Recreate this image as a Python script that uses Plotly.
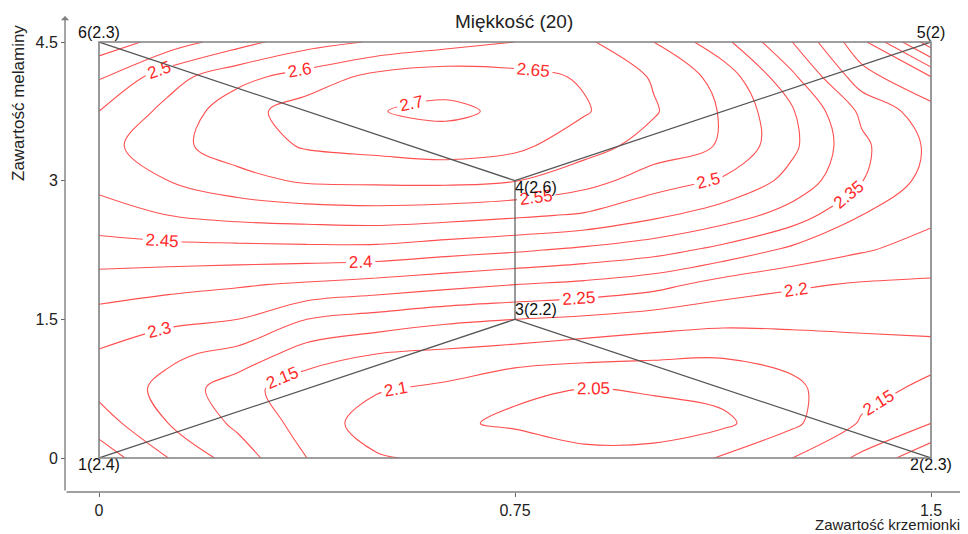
import plotly.graph_objects as go

# ---- axes values ----
x_vals = [0, 0.125, 0.25, 0.375, 0.5, 0.625, 0.75, 0.875, 1.0, 1.125, 1.25, 1.375, 1.5]
y_vals = [0, 0.375, 0.75, 1.125, 1.5, 1.875, 2.25, 2.625, 3.0, 3.375, 3.75, 4.125, 4.5]

# ---- softness surface, one row per y value ----
z_y0_000 = [2.38, 2.30, 2.225, 2.15, 2.105, 2.09, 2.075, 2.06, 2.065, 2.105, 2.15, 2.21, 2.29]
z_y0_375 = [2.325, 2.25, 2.19, 2.13, 2.075, 2.055, 2.045, 2.035, 2.03, 2.04, 2.09, 2.155, 2.20]
z_y0_750 = [2.285, 2.235, 2.17, 2.12, 2.105, 2.09, 2.055, 2.05, 2.055, 2.065, 2.09, 2.135, 2.16]
z_y1_125 = [2.295, 2.26, 2.235, 2.175, 2.15, 2.14, 2.13, 2.117, 2.11, 2.105, 2.115, 2.135, 2.135]
z_y1_500 = [2.33, 2.313, 2.30, 2.25, 2.23, 2.21, 2.20, 2.19, 2.175, 2.165, 2.165, 2.16, 2.165]
z_y1_875 = [2.376, 2.365, 2.355, 2.343, 2.33, 2.315, 2.30, 2.288, 2.268, 2.228, 2.207, 2.195, 2.193]
z_y2_250 = [2.43, 2.433, 2.434, 2.436, 2.435, 2.42, 2.407, 2.39, 2.37, 2.335, 2.288, 2.255, 2.229]
z_y2_625 = [2.478, 2.50, 2.515, 2.522, 2.527, 2.52, 2.508, 2.494, 2.46, 2.425, 2.378, 2.30, 2.262]
z_y3_000 = [2.515, 2.55, 2.583, 2.607, 2.61, 2.612, 2.602, 2.57, 2.524, 2.494, 2.434, 2.352, 2.28]
z_y3_375 = [2.53, 2.585, 2.625, 2.655, 2.665, 2.675, 2.662, 2.62, 2.58, 2.545, 2.46, 2.36, 2.29]
z_y3_750 = [2.50, 2.565, 2.63, 2.675, 2.698, 2.71, 2.69, 2.655, 2.605, 2.545, 2.455, 2.34, 2.27]
z_y4_125 = [2.445, 2.53, 2.585, 2.62, 2.665, 2.68, 2.665, 2.645, 2.595, 2.53, 2.41, 2.27, 2.20]
z_y4_500 = [2.37, 2.42, 2.48, 2.53, 2.555, 2.58, 2.60, 2.61, 2.55, 2.465, 2.35, 2.215, 2.02]

# ---- design points ----
pt_x = [0, 1.5, 0.75, 0.75, 1.5, 0]
pt_y = [0, 0, 1.5, 3.0, 4.5, 4.5]
pt_val = [2.4, 2.3, 2.2, 2.6, 2, 2.3]
edges = [(0, 2), (1, 2), (2, 3), (3, 5), (3, 4)]

x_ticks = [0, 0.75, 1.5]
y_ticks = [0, 1.5, 3, 4.5]

z = [z_y0_000, z_y0_375, z_y0_750, z_y1_125, z_y1_500, z_y1_875, z_y2_250,
     z_y2_625, z_y3_000, z_y3_375, z_y3_750, z_y4_125, z_y4_500]

FONT = "Liberation Sans, Arial, sans-serif"
RED = "#ff5050"
TXT = "#222222"

fig = go.Figure()
fig.add_trace(go.Contour(
    x=x_vals, y=y_vals, z=z,
    contours=dict(start=2.05, end=2.7, size=0.05, coloring="lines",
                  showlabels=True,
                  labelfont=dict(family=FONT, size=17, color="#ff2a2a"),
                  labelformat=".3~g"),
    colorscale=[[0, RED], [1, RED]],
    line=dict(width=1.1, smoothing=1.0),
    showscale=False, hoverinfo="skip",
))

# design lines
lx, ly = [], []
for a, b in edges:
    lx += [pt_x[a], pt_x[b], None]
    ly += [pt_y[a], pt_y[b], None]
fig.add_trace(go.Scatter(x=lx, y=ly, mode="lines",
                         line=dict(color="#555555", width=1.2),
                         hoverinfo="skip", showlegend=False))

# point labels
positions = ["bottom center", "bottom center", "top right", "bottom right",
             "top center", "top center"]
labels = [f"{i+1}({v:g})" for i, v in enumerate(pt_val)]
fig.add_trace(go.Scatter(x=pt_x, y=pt_y, mode="text", text=labels,
                         textposition=positions,
                         textfont=dict(family=FONT, size=16, color="#111111"),
                         cliponaxis=False, hoverinfo="skip", showlegend=False))

# the page body has an 8px margin, so the figure starts at screen (8, 8)
OFF = 8
W, H = 968 - OFF, 534 - OFF
SX0, SY0 = 65, 492                 # screen position of the axes origin
L, B = SX0 - OFF, H - (SY0 - OFF)
T, R = 42 - OFF, W - (931 - OFF)
pw, ph = W - L - R, H - T - B


def px(sx):
    return (sx - SX0) / pw


def py(sy):
    return (SY0 - sy) / ph


fig.update_layout(
    width=W, height=H,
    margin=dict(l=L, r=R, t=T, b=B, pad=0, autoexpand=False),
    paper_bgcolor="white", plot_bgcolor="white",
    showlegend=False,
    font=dict(family=FONT, size=16, color=TXT),
    xaxis=dict(range=[0, 1.5], domain=[px(99), 1], anchor="free", position=0,
               tickvals=x_ticks, ticktext=[f"{v:g}" for v in x_ticks],
               ticks="outside", ticklen=4, tickcolor="#666666",
               showgrid=False, zeroline=False, showline=False, automargin=False,
               tickfont=dict(family=FONT, size=16, color=TXT)),
    yaxis=dict(range=[0, 4.5], domain=[py(458), 1],
               anchor="free", position=0,
               tickvals=y_ticks, ticktext=[f"{v:g}" for v in y_ticks],
               ticks="outside", ticklen=4, tickcolor="#666666",
               showgrid=False, zeroline=False, showline=False, automargin=False,
               tickfont=dict(family=FONT, size=16, color=TXT)),
)

# frame around the plotting region
fig.add_shape(type="rect", xref="x domain", yref="y domain", x0=0, x1=1, y0=0, y1=1,
              line=dict(color="#808080", width=1.6), layer="above")

# axis lines with arrows
fig.add_annotation(xref="paper", yref="paper", x=0, y=py(16),
                   ax=0, ay=476, axref="pixel", ayref="pixel", text="",
                   showarrow=True, arrowhead=1, arrowsize=1, arrowwidth=1.4,
                   arrowcolor="#808080")
fig.add_annotation(xref="paper", yref="paper", x=px(966), y=0,
                   ax=-901, ay=0, axref="pixel", ayref="pixel", text="",
                   showarrow=True, arrowhead=1, arrowsize=1, arrowwidth=1.4,
                   arrowcolor="#808080")

# titles
fig.add_annotation(xref="paper", yref="paper", x=px(514), y=py(22),
                   xanchor="center", yanchor="middle",
                   text="Miękkość (20)", showarrow=False,
                   font=dict(family=FONT, size=19, color=TXT))
fig.add_annotation(xref="paper", yref="paper", x=px(18), y=py(103),
                   xanchor="center", yanchor="middle",
                   text="Zawartość melaminy", textangle=-90, showarrow=False,
                   font=dict(family=FONT, size=17, color=TXT))
fig.add_annotation(xref="paper", yref="paper", x=px(962), y=py(524),
                   xanchor="right", yanchor="middle",
                   text="Zawartość krzemionki", showarrow=False,
                   font=dict(family=FONT, size=15, color=TXT))

fig.write_html("out.html")
